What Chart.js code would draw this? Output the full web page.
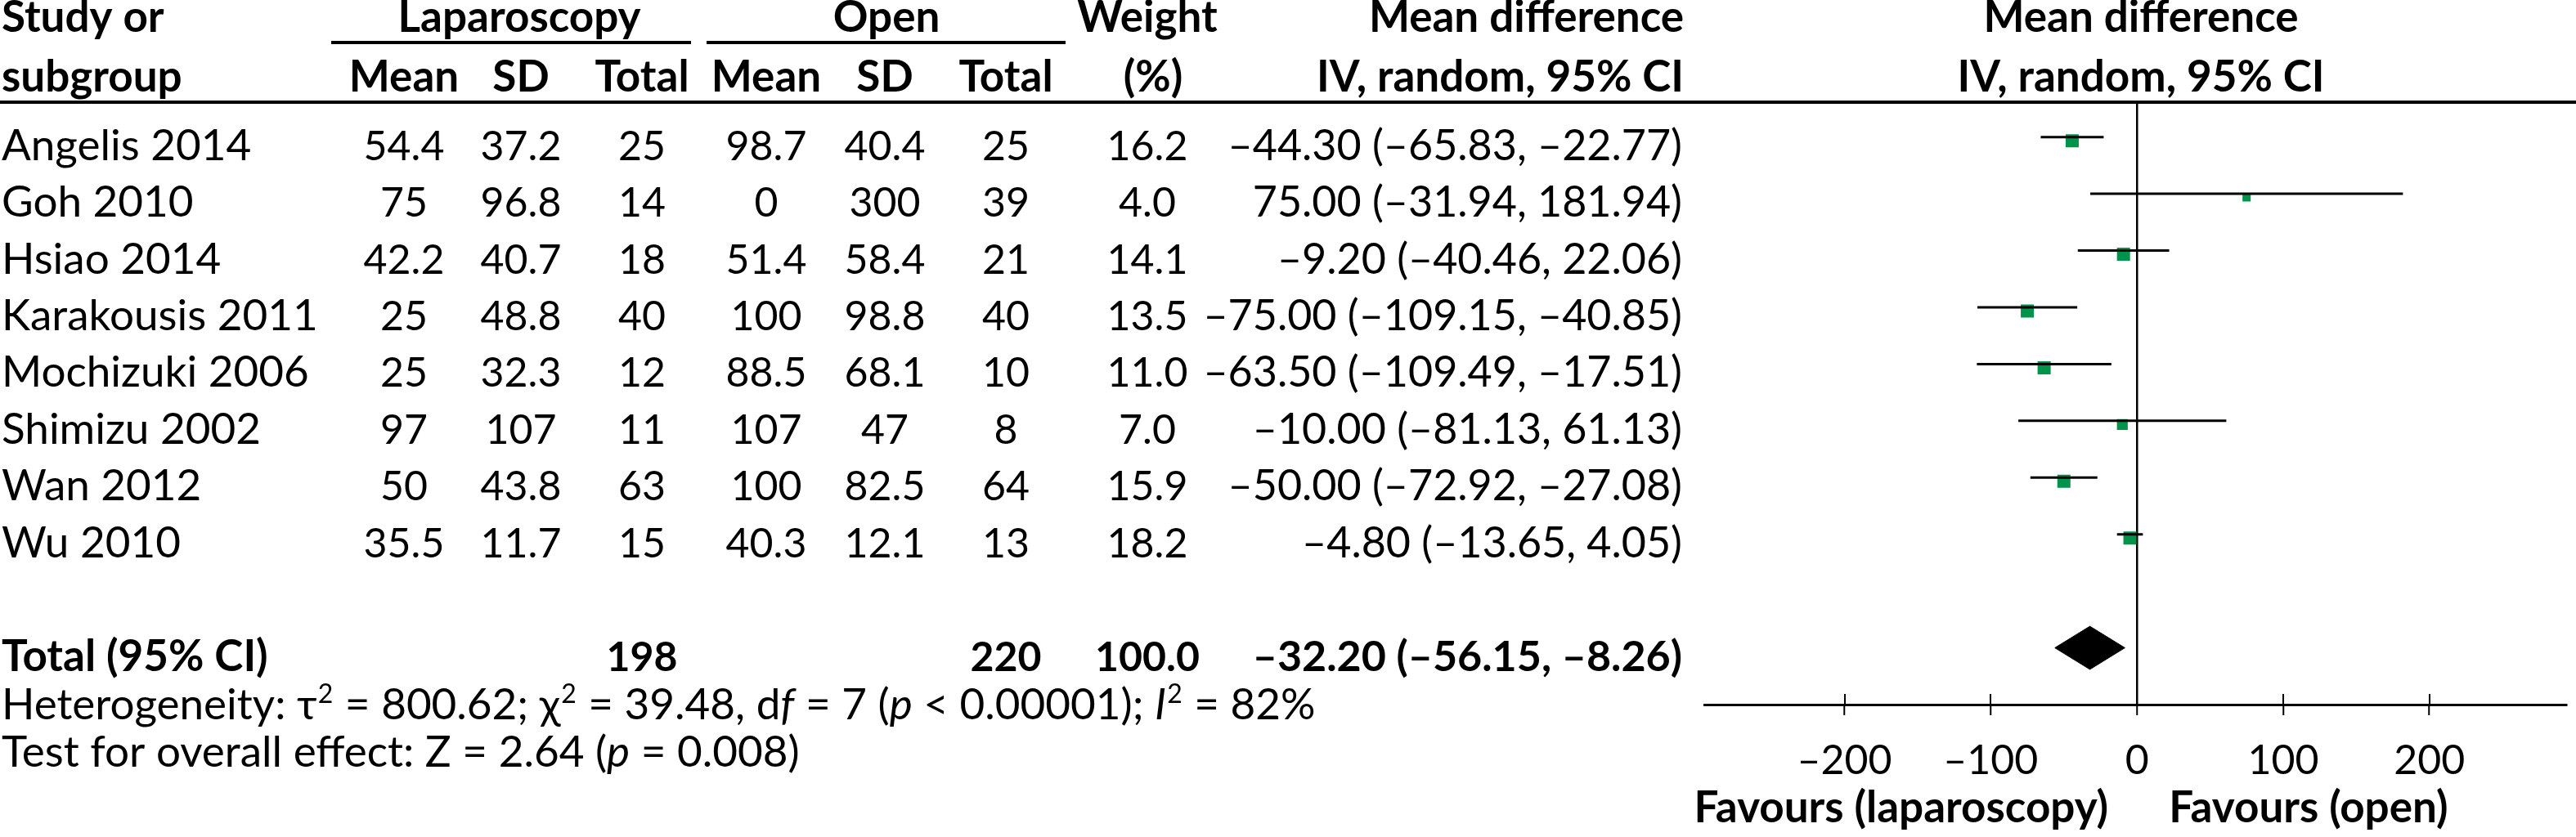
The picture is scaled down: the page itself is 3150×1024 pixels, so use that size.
<!DOCTYPE html>
<html><head><meta charset="utf-8">
<script src="https://cdn.jsdelivr.net/npm/chart.js@4.4.1/dist/chart.umd.min.js"></script>
<style>html,body{margin:0;padding:0;background:#fff;}canvas{display:block;}</style>
</head><body>
<canvas id="c" width="3150" height="1024"></canvas>
<script>
// ---------- data ----------
const studies   = ['Angelis 2014','Goh 2010','Hsiao 2014','Karakousis 2011','Mochizuki 2006','Shimizu 2002','Wan 2012','Wu 2010'];
const lapMean   = [54.4, 75, 42.2, 25, 25, 97, 50, 35.5];
const lapSD     = [37.2, 96.8, 40.7, 48.8, 32.3, 107, 43.8, 11.7];
const lapTotal  = [25, 14, 18, 40, 12, 11, 63, 15];
const openMean  = [98.7, 0, 51.4, 100, 88.5, 107, 100, 40.3];
const openSD    = [40.4, 300, 58.4, 98.8, 68.1, 47, 82.5, 12.1];
const openTotal = [25, 39, 21, 40, 10, 8, 64, 13];
const weights   = [16.2, 4.0, 14.1, 13.5, 11.0, 7.0, 15.9, 18.2];
const meanDiff  = [-44.30, 75.00, -9.20, -75.00, -63.50, -10.00, -50.00, -4.80];
const ciLow     = [-65.83, -31.94, -40.46, -109.15, -109.49, -81.13, -72.92, -13.65];
const ciHigh    = [-22.77, 181.94, 22.06, -40.85, -17.51, 61.13, -27.08, 4.05];
const totalLap = 198, totalOpen = 220, totalWeight = 100.0;
const totalMD = -32.20, totalLow = -56.15, totalHigh = -8.26;
const tau2 = '800.62', chi2 = '39.48', dfHet = 7, pHet = '0.00001', i2 = 82;
const zVal = '2.64', pZ = '0.008';
const xTicks = [-200, -100, 0, 100, 200];
const favLeft = 'Favours (laparoscopy)', favRight = 'Favours (open)';

// ---------- style / layout ----------
const FONT = 'Lato', FS = 53, NUMFS = 50, CIFS = 52;
const GREEN = '#00934a';
const DASH = '\u2013';
const TOTAL_ROW = studies.length + 1;
const BASE_DY = 28;       // text baseline below row line
const MARK_DY = 0.065;    // marker slightly below CI line
const COL = {study:2, lapMean:494, lapSD:637, lapTotal:785, openMean:937, openSD:1082, openTotal:1230, weight:1403, ciRight:2057};

function num(v, d){ const s = d==null ? String(Math.abs(v)) : Math.abs(v).toFixed(d); return (v<0?DASH:'')+s; }
function ciText(m,l,h){ return num(m,2)+' ('+num(l,2)+', '+num(h,2)+')'; }
function markerSide(w){ return Math.min(16, 5*Math.sqrt(w)); }

const tablePlugin = {
  id:'forestTable',
  afterDraw(chart){
    const ctx = chart.ctx, xs = chart.scales.x, ys = chart.scales.y, area = chart.chartArea;
    ctx.save();
    ctx.fillStyle = '#000'; ctx.strokeStyle = '#000';
    // upper halves of tick marks
    ctx.lineWidth = 2;
    xTicks.forEach(v=>{ const px = Math.round(xs.getPixelForValue(v)); ctx.beginPath(); ctx.moveTo(px, area.bottom-13); ctx.lineTo(px, area.bottom); ctx.stroke(); });
    // rules
    ctx.lineWidth = 4;
    [[405,845,52],[864,1303,52],[0,3150,125]].forEach(([a,b,y])=>{ ctx.beginPath(); ctx.moveTo(a,y); ctx.lineTo(b,y); ctx.stroke(); });

    function t(str, x, y, align, weight, size){
      ctx.font = (weight||'normal')+' '+(size||FS)+'px '+FONT;
      ctx.textAlign = align; ctx.textBaseline = 'alphabetic';
      ctx.fillText(str, x, y);
    }
    // header
    const h1 = 39, h2 = 112;
    t('Study or', COL.study, h1, 'left', 'bold');
    t('subgroup', COL.study, h2, 'left', 'bold');
    t('Laparoscopy', 635, h1, 'center', 'bold');
    t('Open', 1084, h1, 'center', 'bold');
    t('Weight', 1403, h1, 'center', 'bold');
    t('Mean difference', 2059, h1, 'right', 'bold');
    t('Mean', COL.lapMean, h2, 'center', 'bold');
    t('SD', COL.lapSD, h2, 'center', 'bold');
    t('Total', COL.lapTotal, h2, 'center', 'bold');
    t('Mean', COL.openMean, h2, 'center', 'bold');
    t('SD', COL.openSD, h2, 'center', 'bold');
    t('Total', COL.openTotal, h2, 'center', 'bold');
    t('(%)', 1410, h2, 'center', 'bold');
    t('IV, random, 95% CI', 2059, h2, 'right', 'bold');
    const fc = 2618;
    t('Mean difference', fc, h1, 'center', 'bold');
    t('IV, random, 95% CI', fc, h2, 'center', 'bold');

    // study rows
    studies.forEach((s,i)=>{
      const by = ys.getPixelForValue(i) + BASE_DY;
      t(s, COL.study, by, 'left');
      t(num(lapMean[i]), COL.lapMean, by, 'center', 'normal', NUMFS);
      t(num(lapSD[i]), COL.lapSD, by, 'center', 'normal', NUMFS);
      t(String(lapTotal[i]), COL.lapTotal, by, 'center', 'normal', NUMFS);
      t(num(openMean[i]), COL.openMean, by, 'center', 'normal', NUMFS);
      t(num(openSD[i]), COL.openSD, by, 'center', 'normal', NUMFS);
      t(String(openTotal[i]), COL.openTotal, by, 'center', 'normal', NUMFS);
      t(weights[i].toFixed(1), COL.weight, by, 'center', 'normal', NUMFS);
      t(ciText(meanDiff[i], ciLow[i], ciHigh[i]), COL.ciRight, by, 'right', 'normal', CIFS);
    });
    // total row
    const ty = ys.getPixelForValue(TOTAL_ROW) + BASE_DY;
    t('Total (95% CI)', COL.study, ty, 'left', 'bold');
    t(String(totalLap), COL.lapTotal, ty, 'center', 'bold', NUMFS);
    t(String(totalOpen), COL.openTotal, ty, 'center', 'bold', NUMFS);
    t(totalWeight.toFixed(1), COL.weight, ty, 'center', 'bold', NUMFS);
    t(ciText(totalMD, totalLow, totalHigh), COL.ciRight, ty, 'right', 'bold', CIFS);

    // footer rich text
    function runs(x, y, parts){
      parts.forEach(p=>{
        const style = p[1] || 'n';
        ctx.textAlign='left';
        if (style === 's') { ctx.font = 'normal 32px '+FONT; ctx.fillText(p[0], x+1, y-20); x += ctx.measureText(p[0]).width + 2; }
        else { ctx.font = (style==='i'?'italic ':'normal ')+FS+'px '+FONT; ctx.fillText(p[0], x, y); x += ctx.measureText(p[0]).width; }
      });
    }
    runs(COL.study, 880, [['Heterogeneity: \u03C4'],['2','s'],[' = '+tau2+'; \u03C7'],['2','s'],[' = '+chi2+', d'],['f','i'],[' = '+dfHet+' ('],['p','i'],[' < '+pHet+'); '],['I','i'],['2','s'],[' = '+i2+'%']]);
    runs(COL.study, 938, [['Test for overall effect: Z = '+zVal+' ('],['p','i'],[' = '+pZ+')']]);

    // favours labels
    const x0 = xs.getPixelForValue(0);
    t(favLeft, x0-35, 1006, 'right', 'bold');
    t(favRight, x0+39, 1006, 'left', 'bold');
    ctx.restore();
  }
};

function build(){
  Chart.defaults.font.family = FONT;
  Chart.defaults.color = '#000';
  const datasets = [];
  // CI lines
  studies.forEach((s,i)=>{
    datasets.push({ label:s, data:[{x:ciLow[i], y:i},{x:ciHigh[i], y:i}], showLine:true, borderColor:'#000', borderWidth:3, pointRadius:0, tension:0 });
  });
  // markers
  datasets.push({ label:'MD', data: meanDiff.map((m,i)=>({x:m, y:i+MARK_DY})), pointStyle:'rect',
    pointRadius: weights.map(w=>markerSide(w)/Math.SQRT2), backgroundColor:GREEN, borderWidth:0, pointBorderWidth:0 });
  // diamond (pooled estimate)
  const hh = 0.38;
  datasets.push({ label:'Total', data:[{x:totalLow,y:TOTAL_ROW},{x:totalMD,y:TOTAL_ROW-hh},{x:totalHigh,y:TOTAL_ROW},{x:totalMD,y:TOTAL_ROW+hh},{x:totalLow,y:TOTAL_ROW}],
    showLine:true, fill:'shape', backgroundColor:'#000', borderColor:'#000', borderWidth:1, pointRadius:0, tension:0 });

  new Chart(document.getElementById('c'), {
    type:'scatter',
    data:{ datasets },
    plugins:[tablePlugin],
    options:{
      responsive:false, animation:false, devicePixelRatio:1,
      layout:{ padding:{ left:2084, right:11, top:126, bottom:22 } },
      plugins:{ legend:{display:false}, tooltip:{enabled:false} },
      scales:{
        x:{ type:'linear', min:-296, max:294,
          afterBuildTicks: s=>{ s.ticks = xTicks.map(v=>({value:v})); },
          afterFit: s=>{ s.height = 140; },
          grid:{ drawOnChartArea:true, drawTicks:true, tickLength:13, tickWidth:2, tickColor:'#000',
                 color: c => (c.tick && c.tick.value === 0) ? '#000' : 'rgba(0,0,0,0)', lineWidth:2.5 },
          border:{ display:true, color:'#000', width:3 },
          ticks:{ autoSkip:false, maxRotation:0, padding:26, color:'#000', font:{family:FONT, size:NUMFS},
                  callback: v => num(v) }
        },
        y:{ type:'linear', reverse:true, min:-0.6, max:10, display:false }
      }
    }
  });
}
Promise.all(['53px Lato','bold 53px Lato','italic 53px Lato'].map(f=>document.fonts.load(f))).then(build, build);
</script>
</body></html>
